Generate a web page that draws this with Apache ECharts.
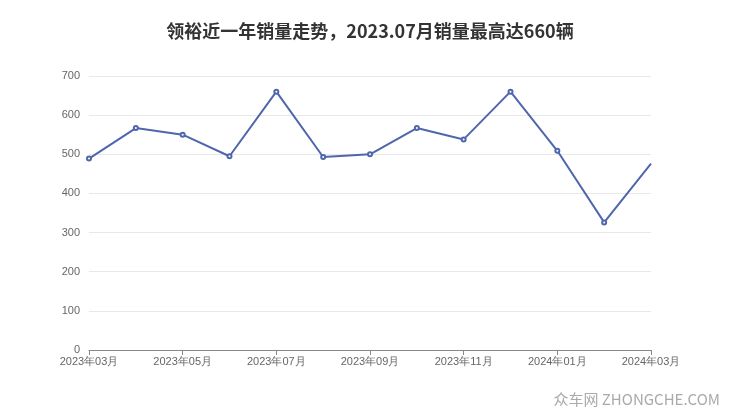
<!DOCTYPE html>
<html><head><meta charset="utf-8">
<script src="https://cdn.jsdelivr.net/npm/echarts@6/dist/echarts.min.js"></script>
<style>html,body{margin:0;padding:0;background:#fff}#c{width:740px;height:417px}</style>
</head><body><div id="c"></div>
<script>
var categories = ['2023年03月','2023年04月','2023年05月','2023年06月','2023年07月','2023年08月','2023年09月','2023年10月','2023年11月','2023年12月','2024年01月','2024年02月','2024年03月'];
var sales = [489, 567, 550, 495, 660, 493, 500, 567, 538, 660, 509, 326, 476];
var chart = echarts.init(document.getElementById('c'));
var seriesData = sales.map(function (v, i) {
  return i === sales.length - 1 ? {value: v, symbol: 'none'} : v;
});
chart.setOption({
  animation: false,
  title: {
    text: '领裕近一年销量走势，2023.07月销量最高达660辆',
    left: 'center', top: 17,
    textStyle: {fontSize: 18, fontWeight: 'bold', color: '#333', fontFamily: 'Noto Sans CJK SC'}
  },
  graphic: [{
    type: 'text', right: 20, bottom: 10,
    style: {text: '众车网 ZHONGCHE.COM', fontSize: 15, fill: '#aaa', fontFamily: 'Noto Sans CJK SC'}
  }],
  grid: {left: 89, right: 89, top: 76, bottom: 67},
  xAxis: {
    type: 'category', data: categories, boundaryGap: false,
    axisLine: {lineStyle: {color: '#888'}},
    axisTick: {interval: 1, lineStyle: {color: '#888'}},
    axisLabel: {interval: 1, color: '#666', fontSize: 11, margin: 6}
  },
  yAxis: {
    type: 'value', min: 0, max: 700, interval: 100,
    axisLabel: {color: '#666', fontSize: 11, margin: 9},
    splitLine: {lineStyle: {color: '#e8e8e8'}},
    axisLine: {show: false}, axisTick: {show: false}
  },
  series: [{
    type: 'line', data: seriesData,
    symbol: 'emptyCircle', symbolSize: 4,
    lineStyle: {color: '#5066ac', width: 2},
    itemStyle: {color: '#5066ac', borderWidth: 1.5}
  }]
});
</script></body></html>
